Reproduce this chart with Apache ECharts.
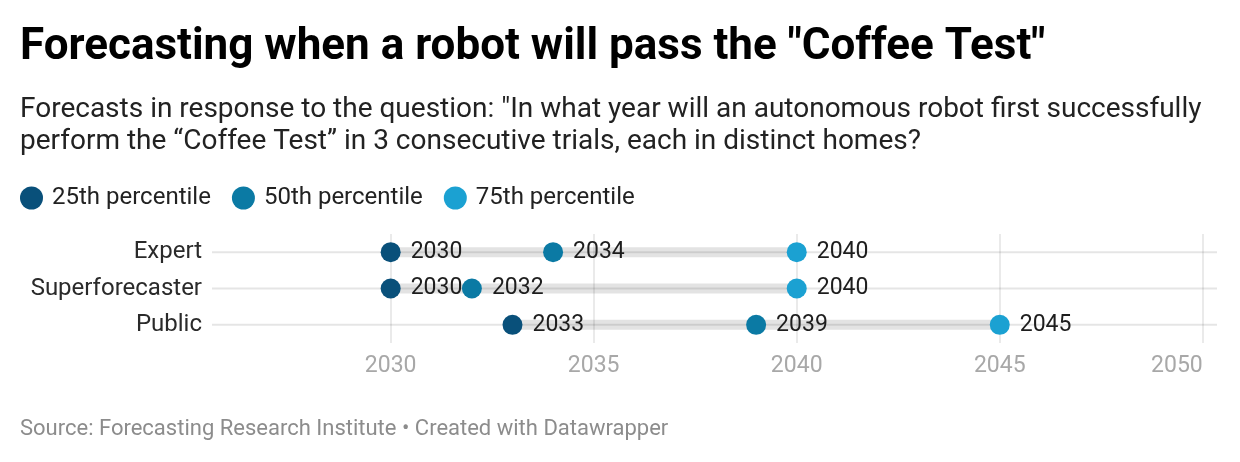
<!DOCTYPE html>
<html>
<head>
<meta charset="UTF-8">
<script src="https://cdn.jsdelivr.net/npm/echarts@6/dist/echarts.min.js"></script>
<title>Coffee Test forecasts</title>
<style>
html, body {
	margin: 0;
	padding: 0;
	background: #fff;
}

#main {
	width: 1240px;
	height: 462px;
}
</style>
</head>
<body>
	<div id="main"></div>
	<script>
		// data
		var groups = [ 'Expert', 'Superforecaster', 'Public' ];
		var p25 = [ 2030, 2030, 2033 ];
		var p50 = [ 2034, 2032, 2039 ];
		var p75 = [ 2040, 2040, 2045 ];
		var seriesNames = [ '25th percentile', '50th percentile', '75th percentile' ];
		var xTicks = [ 2030, 2035, 2040, 2045, 2050 ];
		var xMin = 2025.6, xMax = 2050.35;

		var colors = [ '#09507a', '#0b7aa4', '#1ba1d2' ];
		var FONT = 'Roboto';
		// ellipse path, legend dots are a little taller than wide
		var DOT = 'path://M0,10A10,10,0,1,1,20,10A10,10,0,1,1,0,10Z';

		function dotSeries(name, values, color, z) {
			return {
				name : name,
				type : 'scatter',
				z : z,
				symbol : 'circle',
				symbolSize : 20,
				itemStyle : {
					color : color,
					opacity : 1
				},
				label : {
					show : true,
					position : 'right',
					distance : 10,
					color : '#1d1d1d',
					fontFamily : FONT,
					fontSize : 23,
					formatter : function(p) {
						return p.value[0];
					}
				},
				emphasis : {
					disabled : true
				},
				data : values.map(function(v, i) {
					return [ v, groups[i] ];
				})
			};
		}

		// thin row line across the whole plot, thick band from p25 to p75
		function lineItem(width, color) {
			return function(params, api) {
				var a = api.coord([ api.value(0), api.value(2) ]);
				var b = api.coord([ api.value(1), api.value(2) ]);
				return {
					type : 'line',
					shape : {
						x1 : a[0],
						y1 : a[1],
						x2 : b[0],
						y2 : b[1]
					},
					style : {
						stroke : color,
						lineWidth : width
					}
				};
			};
		}

		var option = {
			animation : false,
			textStyle : {
				fontFamily : FONT
			},
			graphic : [ {
				type : 'text',
				left : 20,
				top : 26,
				style : {
					text : 'Forecasting when a robot will pass the "Coffee Test"',
					font : 'bold 44px Roboto',
					fill : '#000'
				}
			}, {
				type : 'text',
				left : 20,
				top : 94,
				style : {
					text : 'Forecasts in response to the question: "In what year will an autonomous robot first successfully\nperform the \u201cCoffee Test\u201d in 3 consecutive trials, each in distinct homes?',
					font : '28px Roboto',
					lineHeight : 32,
					fill : '#222'
				}
			}, {
				type : 'text',
				left : 20,
				top : 418,
				style : {
					text : 'Source: Forecasting Research Institute \u2022 Created with Datawrapper',
					font : '22px Roboto',
					fill : '#8c8c8c'
				}
			} ],
			legend : {
				left : 20,
				top : 186,
				padding : 0,
				itemWidth : 23,
				itemHeight : 25,
				itemGap : 21,
				icon : DOT,
				data : seriesNames,
				textStyle : {
					fontFamily : FONT,
					fontSize : 24,
					color : '#222',
					padding : [ 0, 0, 0, 4 ]
				},
				selectedMode : false
			},
			grid : {
				left : 212,
				right : 23,
				top : 234,
				height : 109,
				containLabel : false
			},
			xAxis : {
				type : 'value',
				min : xMin,
				max : xMax,
				axisLine : {
					show : false
				},
				axisTick : {
					show : false,
					customValues : xTicks
				},
				axisLabel : {
					customValues : xTicks,
					alignMaxLabel : 'right',
					color : '#a8a8a8',
					fontSize : 23,
					fontFamily : FONT,
					margin : 12,
					formatter : function(v) {
						return String(v);
					}
				},
				splitLine : {
					show : true,
					lineStyle : {
						color : '#e3e3e3',
						width : 1.5
					}
				}
			},
			yAxis : {
				type : 'category',
				data : groups,
				inverse : true,
				axisLine : {
					show : false
				},
				axisTick : {
					show : false
				},
				axisLabel : {
					color : '#2a2a2a',
					fontSize : 24,
					fontFamily : FONT,
					margin : 10
				},
				splitLine : {
					show : false
				}
			},
			series : [ {
				type : 'custom',
				z : 2,
				silent : true,
				renderItem : lineItem(2, 'rgba(0,0,0,0.1)'),
				encode : {
					x : [ 0, 1 ],
					y : 2
				},
				data : groups.map(function(g) {
					return [ xMin, xMax, g ];
				})
			}, {
				type : 'custom',
				z : 1,
				silent : true,
				renderItem : lineItem(10, 'rgba(0,0,0,0.11)'),
				encode : {
					x : [ 0, 1 ],
					y : 2
				},
				data : groups.map(function(g, i) {
					return [ p25[i], p75[i], g ];
				})
			}, dotSeries(seriesNames[0], p25, colors[0], 3),
					dotSeries(seriesNames[1], p50, colors[1], 4),
					dotSeries(seriesNames[2], p75, colors[2], 5) ]
		};

		var mychart = echarts.init(document.getElementById('main'));
		mychart.setOption(option);
	</script>
</body>
</html>
